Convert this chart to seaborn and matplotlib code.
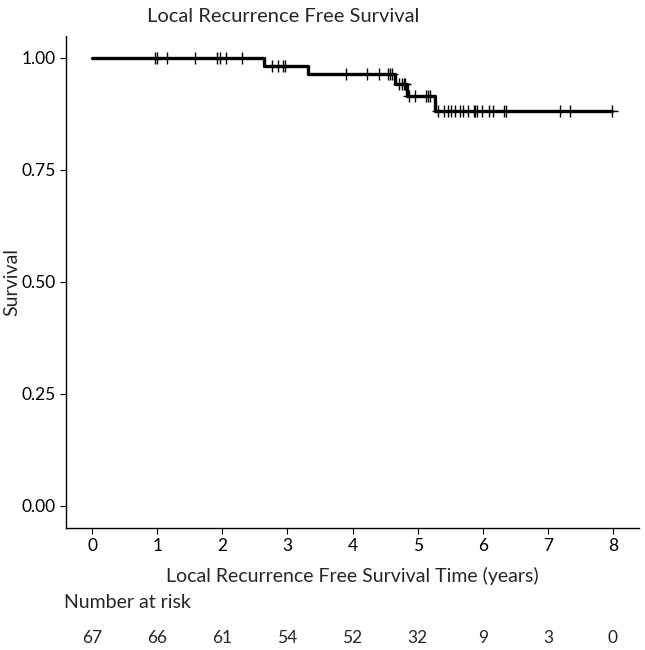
import numpy as np
import pandas as pd
import matplotlib
matplotlib.use('Agg')
import matplotlib.pyplot as plt
import seaborn as sns

# Kaplan-Meier step curve
step_times = [0.0, 2.64, 3.32, 4.65, 4.83, 5.27, 7.98]
step_surv = [1.00, 0.982, 0.964, 0.942, 0.915, 0.882, 0.882]

# censored observations (years)
censor_times = [0.97, 1.00, 1.15, 1.58, 1.92, 1.96, 2.05, 2.31,
                2.77, 2.85, 2.94, 2.97, 3.90, 4.22, 4.40, 4.54, 4.58, 4.61,
                4.71, 4.76, 4.79, 4.81, 4.87, 4.96, 5.13, 5.16, 5.19,
                5.31, 5.40, 5.47, 5.52, 5.58, 5.65, 5.69, 5.78, 5.86, 5.88,
                5.91, 5.99, 6.09, 6.16, 6.32, 6.35, 7.19, 7.34, 7.98]

risk_times = [0, 1, 2, 3, 4, 5, 6, 7, 8]
at_risk = [67, 66, 61, 54, 52, 32, 9, 3, 0]

sns.set_theme(style='ticks')
plt.rcParams['font.family'] = ['Lato', 'DejaVu Sans']

curve = pd.DataFrame({'time': step_times, 'surv': step_surv})
idx = np.searchsorted(step_times, censor_times, side='right') - 1
cens = pd.DataFrame({'time': censor_times, 'surv': np.array(step_surv)[idx]})

fig = plt.figure(figsize=(6.45, 6.5), dpi=100)
ax = fig.add_axes([66 / 645, 1 - 528 / 650, 573 / 645, 492.4 / 650])

# survival curve and censor marks
sns.lineplot(data=curve, x='time', y='surv', ax=ax, color='black', linewidth=2.4,
             drawstyle='steps-post', estimator=None)
sns.scatterplot(data=cens, x='time', y='surv', ax=ax, marker='+', s=70,
                color='black', linewidth=1.0, zorder=3)

ax.set_xlim(-0.4, 8.4)
ax.set_ylim(-0.05, 1.05)
ax.set_xticks(risk_times)
ax.set_yticks([0, 0.25, 0.5, 0.75, 1.0])
ax.set_yticklabels(['0.00', '0.25', '0.50', '0.75', '1.00'])
ax.tick_params(labelsize=12.5, length=4, width=0.8, color='black', labelcolor='black')
ax.set_xlabel('Local Recurrence Free Survival Time (years)', fontsize=14, labelpad=9)
ax.set_ylabel('Survival', fontsize=14)
ax.yaxis.set_label_coords(-46 / 573, 0.5)
sns.despine(ax=ax)
for s in ['left', 'bottom']:
    ax.spines[s].set_color('black')
    ax.spines[s].set_linewidth(1.0)

fig.text(283 / 645, 1 - 17 / 650, 'Local Recurrence Free Survival', fontsize=14.5,
         ha='center', va='center')
fig.text(64 / 645, 1 - 603 / 650, 'Number at risk', fontsize=14, ha='left', va='center')

# number at risk table, aligned with the x ticks
for t, n in zip(risk_times, at_risk):
    xpix = 92 + t * (613 - 92) / 8
    fig.text(xpix / 645, 1 - 638 / 650, str(n), fontsize=12.5, ha='center', va='center')

fig.savefig('out.png', dpi=100)
